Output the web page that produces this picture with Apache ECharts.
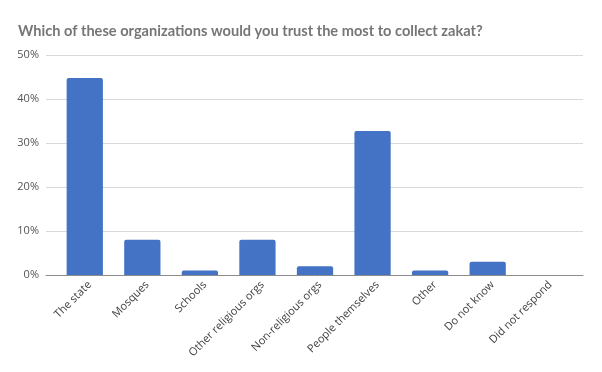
<!DOCTYPE html>
<html><head><meta charset="utf-8">
<script src="https://cdn.jsdelivr.net/npm/echarts@6/dist/echarts.min.js"></script>
<style>html,body{margin:0;padding:0;background:#fff}#c{width:602px;height:372px}</style>
</head><body><div id="c"></div>
<script>
const categories = ["The state","Mosques","Schools","Other religious orgs","Non-religious orgs","People themselves","Other","Do not know","Did not respond"];
const values = [44.8, 8, 1, 8, 2, 32.7, 1, 3, 0];
const yTicks = [0, 10, 20, 30, 40, 50];

const yMin = yTicks[0], yMax = yTicks[yTicks.length-1];
const chart = echarts.init(document.getElementById('c'));
chart.setOption({
  animation: false,
  title: {
    text: "Which of these organizations would you trust the most to collect zakat?",
    left: 13, top: 19,
    textStyle: {fontFamily: "Lato", fontWeight: "bold", fontSize: 14.6, color: "#767676"}
  },
  grid: [
    {left: 46, right: 19, top: 55, bottom: 97},
    {left: 56, right: 28, top: 55, bottom: 97},
    {left: 61, right: 23, top: 55, bottom: 97}
  ],
  xAxis: [
    {gridIndex: 0, type: 'value', min: 0, max: 1, axisLine: {show: true, onZero: false, lineStyle: {color: '#8c8c8c', width: 1}},
     axisTick: {show: false}, axisLabel: {show: false}, splitLine: {show: false}},
    {gridIndex: 1, type: 'category', data: categories,
     axisLine: {show: false}, axisTick: {show: false}, axisLabel: {show: false}},
    {gridIndex: 2, type: 'category', data: categories,
     axisLine: {show: false}, axisTick: {show: false},
     axisLabel: {rotate: 45, interval: 0, fontFamily: "Open Sans", fontSize: 11, color: '#404040', margin: 8}}
  ],
  yAxis: [
    {gridIndex: 0, type: 'value', min: yMin, max: yMax, interval: 10,
     axisLine: {show: false}, axisTick: {show: false},
     splitLine: {lineStyle: {color: '#d9d9d9', width: 1}},
     axisLabel: {formatter: '{value}%', fontFamily: "Open Sans", fontSize: 11, color: '#555', margin: 7}},
    {gridIndex: 1, type: 'value', min: yMin, max: yMax, interval: 10, show: false, splitLine: {show: false}},
    {gridIndex: 2, type: 'value', min: yMin, max: yMax, interval: 10, show: false, splitLine: {show: false}}
  ],
  series: [{
    type: 'bar', data: values, xAxisIndex: 1, yAxisIndex: 1, barWidth: '63%',
    itemStyle: {color: '#4472C4', borderRadius: [2,2,0,0]}
  }]
});
</script></body></html>
